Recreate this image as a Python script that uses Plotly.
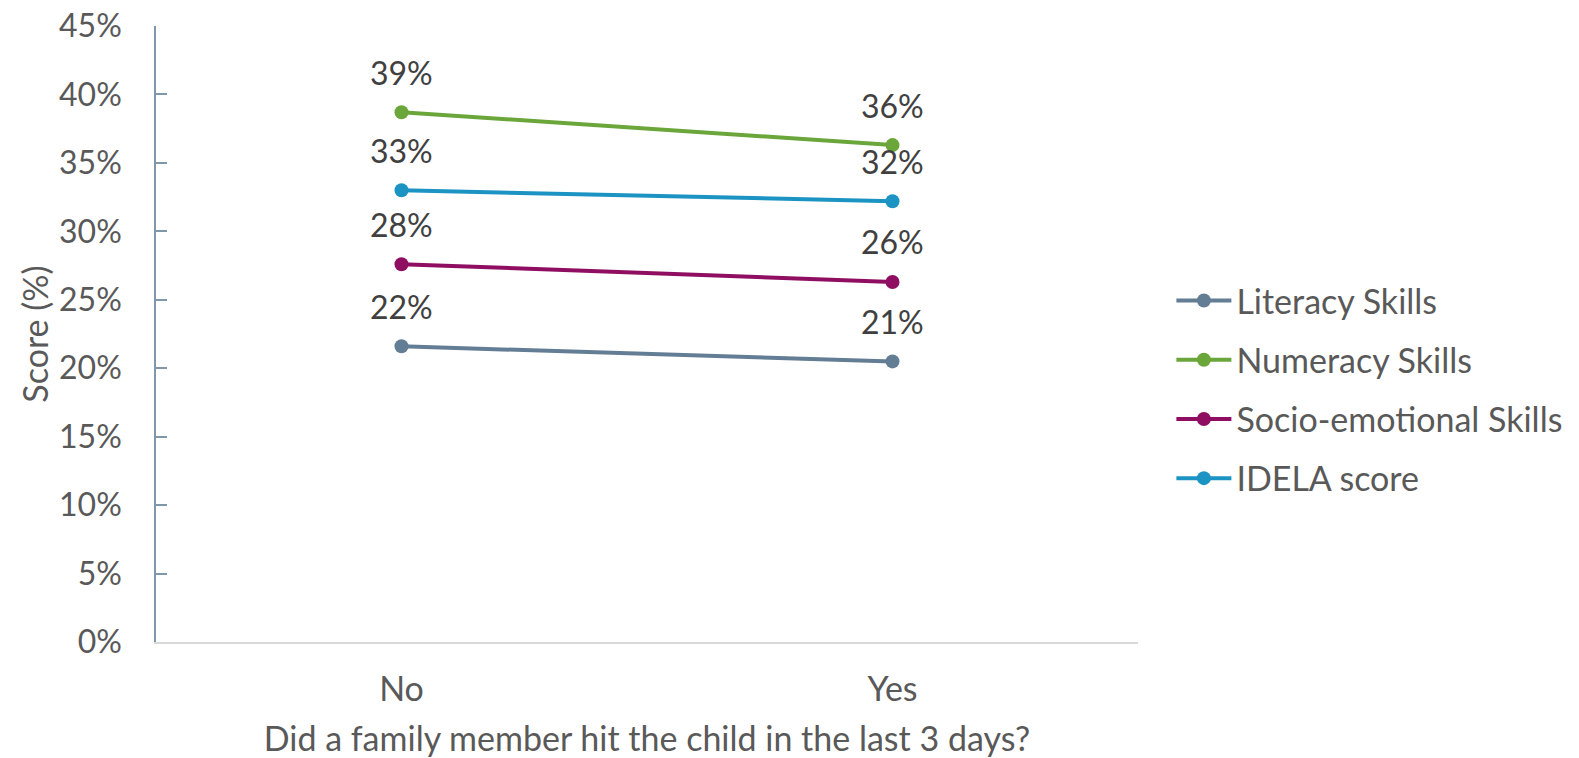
import plotly.graph_objects as go

categories = ["No", "Yes"]
series_names = ["Literacy Skills", "Numeracy Skills", "Socio-emotional Skills", "IDELA score"]
literacy = [21.6, 20.5]
numeracy = [38.7, 36.3]
socio = [27.6, 26.3]
idela = [33.0, 32.2]
y_ticks = [0, 5, 10, 15, 20, 25, 30, 35, 40, 45]
y_tick_labels = ["0%", "5%", "10%", "15%", "20%", "25%", "30%", "35%", "40%", "45%"]

series_values = [literacy, numeracy, socio, idela]
colors = ["#637D94", "#6AA63A", "#8F0E62", "#1B94C3"]

FONT = "Lato, Open Sans, sans-serif"


def pct(v):
    return f"{int(v + 0.5)}%"


fig = go.Figure()
for name, vals, col in zip(series_names, series_values, colors):
    fig.add_trace(go.Scatter(
        x=categories, y=vals, name=name, mode="lines+markers",
        line=dict(color=col, width=4),
        marker=dict(color=col, size=14),
        legendgroup=name,
    ))
    for c, v in zip(categories, vals):
        fig.add_annotation(x=c, y=v, text=pct(v), showarrow=False,
                           yshift=40, font=dict(size=32, color="#404040", family=FONT))

fig.update_layout(
    width=1579, height=758,
    margin=dict(l=156, r=431, t=26, b=116),
    paper_bgcolor="white", plot_bgcolor="white",
    font=dict(family=FONT, color="#595959", size=32),
    showlegend=True,
    legend=dict(x=1.034, y=0.41, yanchor="middle", xanchor="left",
                font=dict(size=34, color="#595959", family=FONT),
                tracegroupgap=12, itemwidth=55, bgcolor="rgba(0,0,0,0)"),
)
fig.update_xaxes(
    type="category", range=[-0.5, 1.5], automargin=False,
    showline=True, linecolor="#D9D9D9", linewidth=1.5,
    showgrid=False, ticks="", zeroline=False,
    tickfont=dict(size=34, color="#595959", family=FONT),
    ticklabelstandoff=16,
    title=dict(text="Did a family member hit the child in the last 3 days?",
               font=dict(size=34, color="#595959", family=FONT), standoff=22),
)
fig.update_yaxes(
    range=[0, 45], tickvals=y_ticks, ticktext=y_tick_labels, automargin=False,
    showline=True, linecolor="#7F97AB", linewidth=1.5,
    showgrid=False, zeroline=False,
    ticks="inside", ticklen=11, tickcolor="#7F97AB", tickwidth=1.5,
    tickfont=dict(size=32, color="#595959", family=FONT),
    ticklabelstandoff=26, ticklabeloverflow="allow",
    title=dict(text="Score (%)", font=dict(size=34, color="#595959", family=FONT), standoff=0),
)

fig.write_html("out.html", config={"displayModeBar": False},
               post_script="document.body.style.margin='0';")
